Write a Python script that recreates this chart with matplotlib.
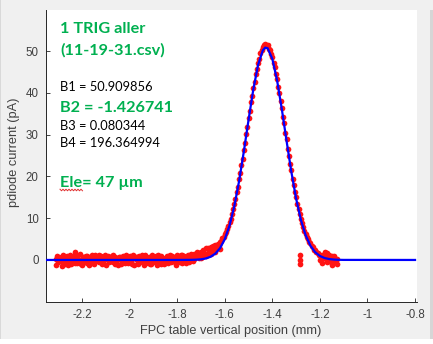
import numpy as np
import matplotlib
matplotlib.use("Agg")
import matplotlib.pyplot as plt
from matplotlib.lines import Line2D
from matplotlib.patches import Rectangle

# ---------------- data ----------------
# baseline scan (three interleaved passes), x from -2.31 to -1.71
base_row1 = [0.3, -0.6, 0.8, 0.1, -0.9, 0.5, 1.2, -0.2, 1.8, -0.7,
             1.5, 0.2, -0.4, 0.9, -1.1, 0.4, 0.0, 0.7, -0.5, 1.0,
             -0.8, 0.3, 0.6, -0.3, 1.1, -0.9, 0.2, 0.8, -0.6, 0.5,
             -0.1, 0.9, -1.0, 0.4, 0.7, -0.4, 1.2, 0.1, -0.7, 0.6,
             0.3, -0.5, 0.9, -0.2, 1.0, 0.2, -0.8, 0.5, 1.3, -0.3,
             0.7, 0.0, -0.6, 1.1, 0.4, -0.2, 0.8, 0.6, 1.4, 0.9,
             1.6]
base_row2 = [-1.2, 0.7, -0.3, 1.3, 0.2, -1.3, 0.1, 0.9, -0.8, 0.4,
             -0.2, -1.3, 0.6, -0.7, 0.5, 1.1, -0.9, -0.1, 1.2, -0.4,
             0.4, -1.2, 1.0, 0.0, -0.6, 0.8, -1.3, 0.3, 1.0, -0.8,
             0.6, -0.5, 0.3, -1.3, 0.1, 1.0, -0.6, -1.1, 0.8, -0.3,
             -0.9, 0.7, -0.4, 1.1, -1.0, 0.5, 0.3, -0.7, 0.2, 1.0,
             -0.5, 1.2, 0.4, -0.8, 1.0, 0.3, -0.4, 1.5, 0.2, 1.1,
             0.5]
base_row3 = [0.9, -0.2, -1.4, 0.5, 1.0, -0.5, -0.9, 0.4, 1.3, 0.0,
             -0.9, 0.8, 1.0, -0.3, 0.2, -0.8, 1.3, 0.5, 0.1, -1.0,
             1.2, 0.5, -0.5, 0.9, -0.2, 0.1, 0.7, -0.9, -0.2, 1.2,
             -0.8, 0.2, 1.1, 0.7, -0.9, -0.1, 0.3, 1.1, 0.0, -0.9,
             1.2, 0.1, -1.1, 0.6, -0.3, -1.0, 1.0, 0.9, -0.5, 0.5,
             -1.1, 0.6, 1.2, 0.2, -0.7, 1.1, 0.0, -0.3, 0.8, 2.0,
             1.3]

# peak scan, x from -1.700 to -1.130 (step 0.005)
peak_y = [1.8, 0.6, 2.4, 1.2, 2.8, 1.5, 2.9, 1.9, 3.2, 2.2,
          3.4, 2.6, 3.6, 3.0, 3.9, 3.6, 4.4, 4.5, 5.2, 5.5,
          6.2, 6.7, 7.5, 8.1, 9.1, 9.9, 11.0, 12.1, 13.4, 14.6,
          16.2, 17.5, 19.3, 20.8, 22.7, 24.3, 26.4, 28.0, 30.2, 31.9,
          34.0, 35.6, 37.8, 39.3, 41.3, 42.6, 44.5, 45.7, 47.3, 48.1,
          49.5, 50.3, 51.0, 51.6, 51.8, 51.4, 51.5, 50.6, 50.4, 49.3,
          48.6, 47.2, 46.3, 44.6, 43.4, 41.5, 40.1, 38.0, 36.5, 34.2,
          32.7, 30.4, 28.9, 26.6, 25.0, 22.9, 21.5, 19.5, 18.0, 16.3,
          15.0, 13.5, 12.3, 10.9, 9.9, 8.8, 7.9, 7.0, 6.3, 5.6,
          5.0, 4.4, 4.0, 3.3, 3.1, 2.5, 2.4, 1.8, 1.7, 1.2,
          1.3, 0.6, 1.1, 0.4, 1.4, 0.2, 1.6, 0.5, 1.3, -0.4,
          0.9, -0.6, 0.4, -0.3, 0.2]

# extra tail points
left_tail_y = [0.5, 2.0, 1.0, 2.6, 1.4, 3.0, 2.0, 3.5, 2.6]      # -1.70 .. -1.62
right_tail_y = [0.1, -0.8, 2.0, -0.5, 0.8, -1.2, 1.0, -0.9]       # -1.20 .. -1.13
outlier_x = [-1.285, -1.285, -1.285]
outlier_y = [1.3, 0.0, -1.0]

# fitted Gaussian (B1=50.909856, B2=-1.426741, B3=0.080344), sampled values
fit_x = [-2.35, -1.80, -1.74, -1.72, -1.70, -1.68, -1.66, -1.64, -1.62, -1.60,
         -1.58, -1.56, -1.54, -1.52, -1.50, -1.48, -1.46, -1.44, -1.43, -1.42,
         -1.40, -1.38, -1.36, -1.34, -1.32, -1.30, -1.28, -1.26, -1.24, -1.22,
         -1.20, -1.18, -1.16, -1.14, -1.12, -1.10, -0.80]
fit_y = [0.0, 0.0, 0.025, 0.065, 0.156, 0.354, 0.751, 1.501, 2.818, 4.974,
         8.249, 12.86, 18.84, 25.94, 33.58, 40.86, 46.72, 50.22, 50.87, 50.73,
         48.18, 43.00, 36.07, 28.44, 21.08, 14.68, 9.61, 5.92, 3.42, 1.86,
         0.950, 0.456, 0.206, 0.087, 0.035, 0.013, 0.0]

xticks = [-2.2, -2.0, -1.8, -1.6, -1.4, -1.2, -1.0, -0.8]
xtick_labels = ["-2.2", "-2", "-1.8", "-1.6", "-1.4", "-1.2", "-1", "-0.8"]
yticks = [0, 10, 20, 30, 40, 50]

# ---------------- figure ----------------
W, H = 433, 344
fig = plt.figure(figsize=(W / 100, H / 100), dpi=100, facecolor="#f0f0f0")

def fx(px):
    return px / W

def fy(py):
    return 1 - py / H

# window decorations
fig.patches.append(Rectangle((0, 0), 1, fy(339), transform=fig.transFigure,
                             facecolor="white", edgecolor="none", zorder=-5))
fig.patches.append(Rectangle((fx(429.5), fy(339)), fx(3.5), fy(9.5) - fy(339),
                             transform=fig.transFigure, facecolor="#d6d6d6",
                             edgecolor="none", zorder=-4))
fig.patches.append(Rectangle((0, fy(339)), fx(1.2), 1 - fy(339),
                             transform=fig.transFigure, facecolor="#d9d9d9",
                             edgecolor="none", zorder=-4))

ax = fig.add_axes([fx(45.7), fy(301.7), fx(416.7) - fx(45.7), fy(9.5) - fy(301.7)])
ax.set_facecolor("white")

tick_color = "#262626"
ms = 4.1
base_x1 = np.linspace(-2.31, -1.71, len(base_row1))
base_x2 = np.linspace(-2.31, -1.71, len(base_row2))
base_x3 = np.linspace(-2.305, -1.705, len(base_row3))
peak_x = np.linspace(-1.700, -1.130, len(peak_y))
left_tail_x = np.linspace(-1.70, -1.62, len(left_tail_y))
right_tail_x = np.linspace(-1.20, -1.13, len(right_tail_y))

for xs, ys in [(base_x1, base_row1), (base_x2, base_row2), (base_x3, base_row3),
               (peak_x, peak_y), (left_tail_x, left_tail_y),
               (right_tail_x, right_tail_y), (outlier_x, outlier_y)]:
    ax.plot(xs, ys, linestyle="none", marker="o", markersize=ms,
            markerfacecolor="#ff1414", markeredgecolor="none", zorder=2)

ax.plot(fit_x, fit_y, color="#0000ff", linewidth=1.6, zorder=3,
        solid_joinstyle="round")

ax.set_xlim(-2.353, -0.793)
ax.set_ylim(-10, 60)
ax.set_xticks(xticks)
ax.set_xticklabels(xtick_labels)
ax.set_yticks(yticks)

for s in ["top", "right"]:
    ax.spines[s].set_visible(False)
for s in ["left", "bottom"]:
    ax.spines[s].set_color(tick_color)
    ax.spines[s].set_linewidth(0.7)

ax.tick_params(direction="in", length=3, width=0.6, colors=tick_color,
               labelsize=8.3, pad=5)
for lab in ax.get_xticklabels() + ax.get_yticklabels():
    lab.set_family("Liberation Sans")
    lab.set_color("#404040")

fig.text(fx(231), fy(331), "FPC table vertical position (mm)", ha="center",
         va="center", fontsize=9.2, color="#404040", family="Liberation Sans")
fig.text(fx(14), fy(152), "pdiode current (pA)", ha="center", va="center",
         rotation=90, fontsize=9.2, color="#404040", family="Liberation Sans")

green = "#00b050"
tf = "Lato"
fig.text(fx(60), fy(33), "1 TRIG aller", fontsize=11.7, fontweight="bold",
         color=green, family=tf, va="baseline")
fig.text(fx(60), fy(54.5), "(11-19-31.csv)", fontsize=11.7, fontweight="bold",
         color=green, family=tf, va="baseline")
fig.text(fx(60), fy(91), "B1 = 50.909856", fontsize=9.3, color="black",
         family=tf, va="baseline")
fig.text(fx(60), fy(111.7), "B2 = -1.426741", fontsize=11.7, fontweight="bold",
         color=green, family=tf, va="baseline")
fig.text(fx(60), fy(130), "B3 = 0.080344", fontsize=9.3, color="black",
         family=tf, va="baseline")
fig.text(fx(60), fy(147), "B4 = 196.364994", fontsize=9.3, color="black",
         family=tf, va="baseline")
fig.text(fx(60), fy(186.5), "Ele= 47 \u00b5m", fontsize=11.7, fontweight="bold",
         color=green, family=tf, va="baseline")

# spell-check squiggle under "Ele"
sq_x = np.arange(60, 84, 1.5)
sq_y = 190 + np.where(np.arange(len(sq_x)) % 2 == 0, -0.8, 0.8)
fig.lines.append(Line2D(fx(sq_x), fy(sq_y), transform=fig.transFigure,
                        color="#e03030", linewidth=0.7))

fig.savefig("out.png", dpi=100, facecolor=fig.get_facecolor())
